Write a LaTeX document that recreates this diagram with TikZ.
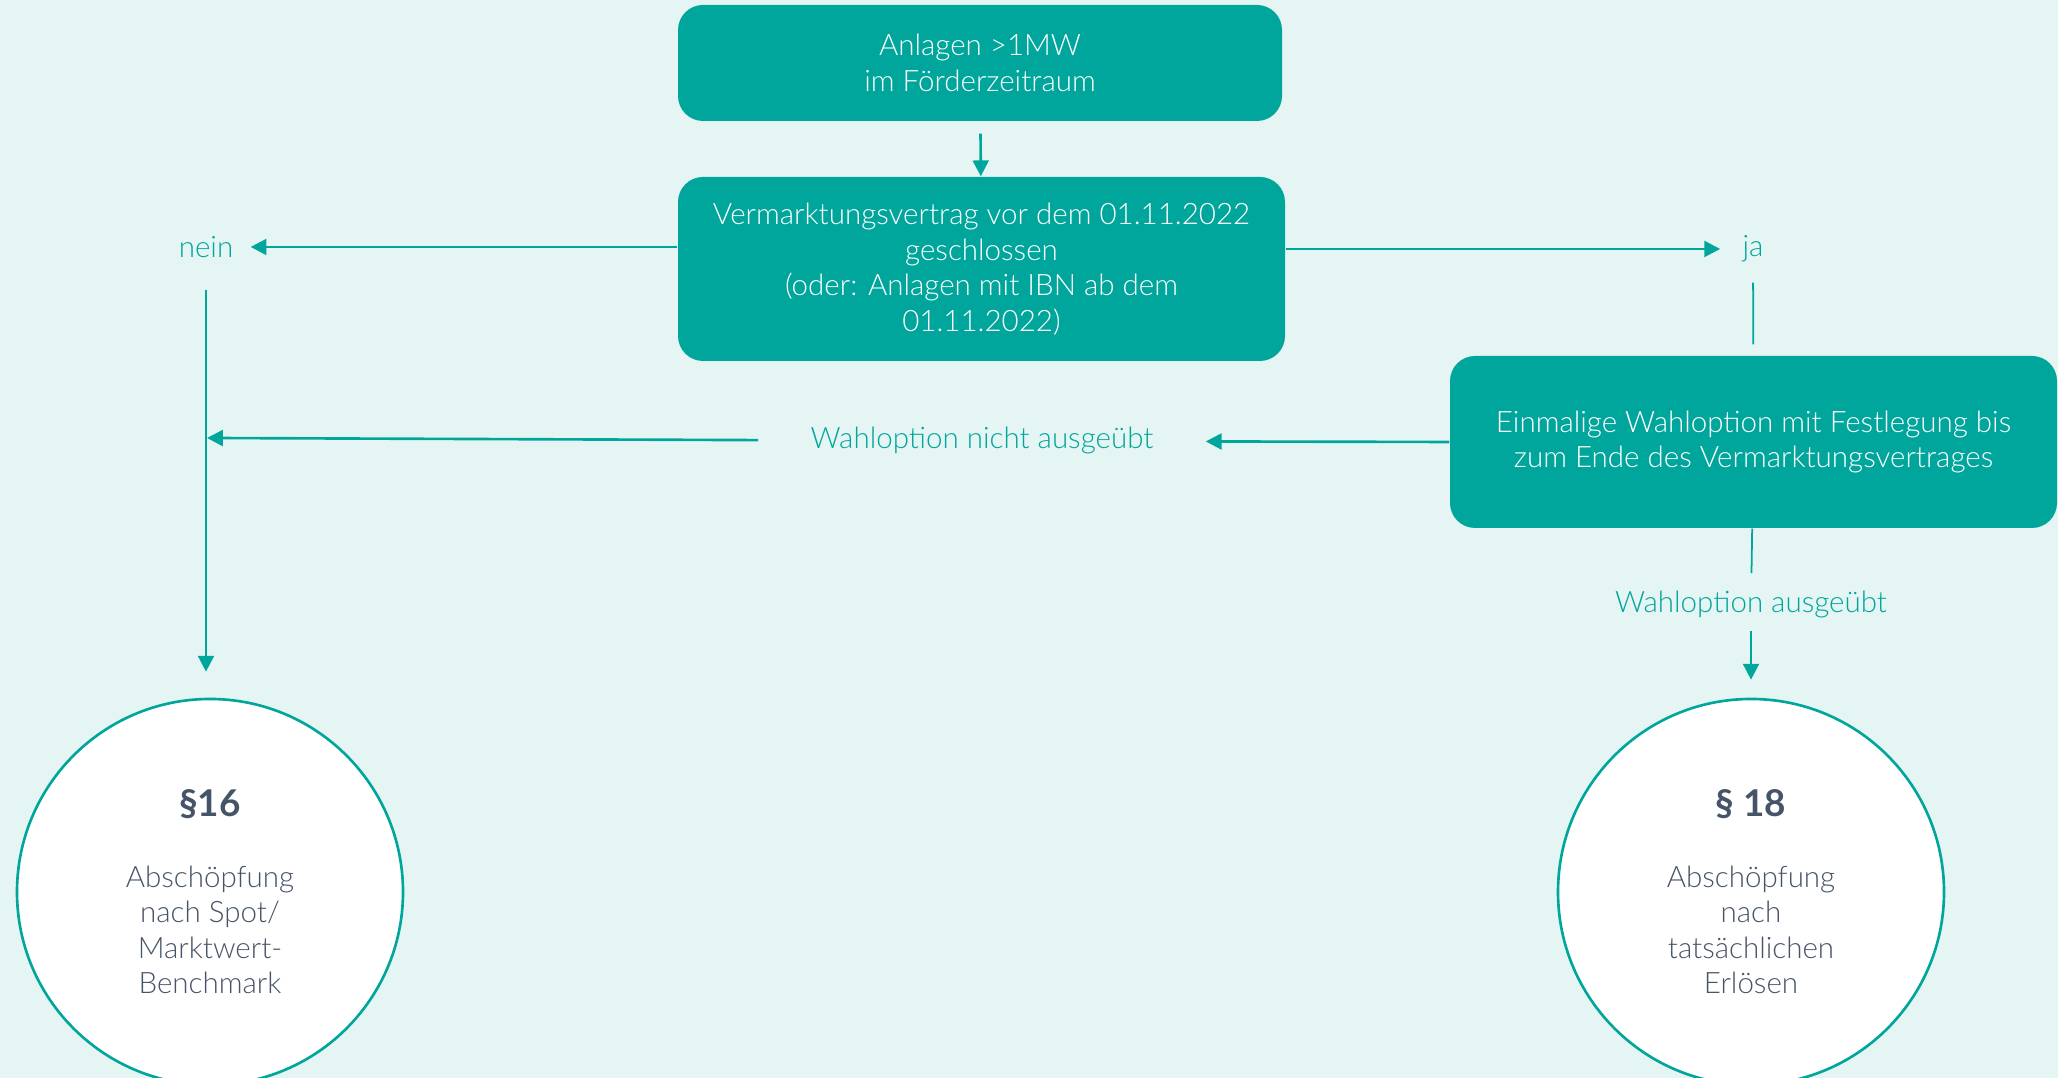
\documentclass[tikz,border=0pt]{standalone}
\usepackage{fontspec}
\setmainfont{Lato}[UprightFont=* Light, BoldFont=* Bold]
\usetikzlibrary{positioning,arrows.meta}
\definecolor{brandTeal}{HTML}{00A69C}
\definecolor{paleTeal}{HTML}{E5F5F3}
\definecolor{slateText}{HTML}{465468}

\begin{document}
\begin{tikzpicture}[node distance=1mm, font=\fontsize{8.4}{10.1}\selectfont,
    box/.style={fill=brandTeal, text=white, rounded corners=0.25cm, align=center},
    answer/.style={text=brandTeal, align=center},
    result/.style={circle, draw=brandTeal, line width=0.75pt, fill=white, minimum size=3.86cm, text=slateText, align=center},
    link/.style={draw=brandTeal, line width=0.75pt},
    arrow/.style={link, -{Triangle[length=4.5pt,width=4.5pt]}}]
        \clip (0,0) rectangle (20.58,10.78);
        \fill[paleTeal] (0,0) rectangle (20.58,10.78);
        \node[box, minimum width=6.04cm, minimum height=1.16cm] (topBox) at (9.80,10.15) {Anlagen >1MW\\im Förderzeitraum};
        \node[box, minimum width=6.07cm, minimum height=1.84cm] (contractBox) at (9.815,8.09) {Vermarktungsvertrag vor dem 01.11.2022\\geschlossen\\(oder: Anlagen mit IBN ab dem\\01.11.2022)};
        \node[answer] (nein) at (2.06,8.31) {nein};
        \node[answer] (ja) at (17.53,8.29) {ja};
        \node[box, minimum width=6.07cm, minimum height=1.72cm] (choiceBox) at (17.535,6.36) {Einmalige Wahloption mit Festlegung bis\\zum Ende des Vermarktungsvertrages};
        \node[answer] (notChosen) at (9.82,6.37) {Wahloption nicht ausgeübt};
        \node[answer] (chosen) at (17.51,4.73) {Wahloption ausgeübt};
        \node[result] (circleLeft) at (2.10,1.86) {{\fontsize{10.5}{12}\selectfont\bfseries §16}\\[10pt]Abschöpfung\\nach Spot/\\Marktwert-\\Benchmark};
        \node[result] (circleRight) at (17.51,1.86) {{\fontsize{10.5}{12}\selectfont\bfseries § 18}\\[10pt]Abschöpfung\\nach\\tatsächlichen\\Erlösen};
        \coordinate (leftLine) at (2.07,6.40);
        \draw[arrow, shorten <=0.12cm] (topBox) -- (contractBox);
        \draw[arrow, shorten >=0.05cm] (contractBox.west |- nein) -- (nein);
        \draw[arrow, shorten >=0.1cm] (contractBox.east |- ja) -- (ja);
        \draw[link, line width=0.5pt, shorten <=0.08cm, shorten >=0.11cm] (ja) -- (choiceBox);
        \draw[arrow, shorten <=0.2cm, shorten >=0.26cm] (nein) -- (nein |- circleLeft.north);
        \draw[arrow, shorten >=0.4cm] (choiceBox.west) -- (notChosen);
        \draw[arrow, shorten <=0.4cm] (notChosen) -- (leftLine);
        \draw[link, line width=0.5pt, shorten >=0.06cm] (choiceBox) -- (chosen);
        \draw[arrow, shorten >=0.18cm] (chosen) -- (circleRight);
\end{tikzpicture}
\end{document}
